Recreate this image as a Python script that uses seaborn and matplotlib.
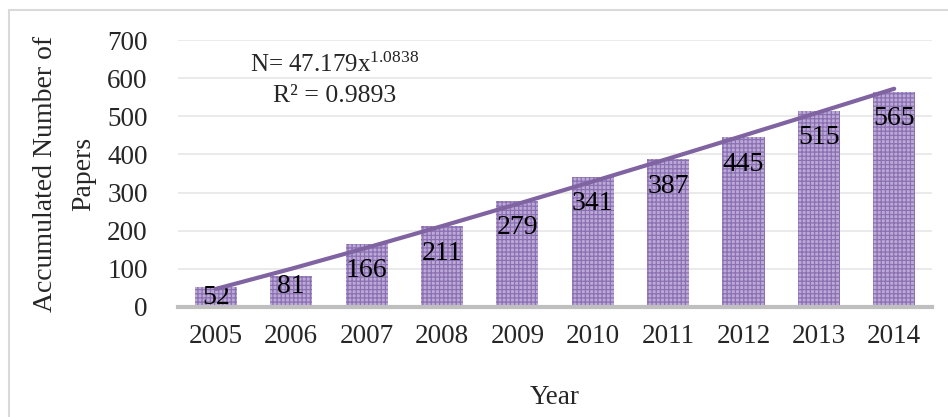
import numpy as np
import pandas as pd
import seaborn as sns
import matplotlib.pyplot as plt
from matplotlib.patches import Rectangle

# data
years = ['2005', '2006', '2007', '2008', '2009', '2010', '2011', '2012', '2013', '2014']
papers = [52, 81, 166, 211, 279, 341, 387, 445, 515, 565]
# power trend line shown on the chart: N = a * x^b
trend_a = 47.179
trend_b = 1.0838

df = pd.DataFrame({'Year': years, 'Papers': papers})

sns.set_style('white')
plt.rcParams['font.family'] = ['Liberation Serif', 'DejaVu Serif']
plt.rcParams['mathtext.fontset'] = 'custom'
plt.rcParams['mathtext.rm'] = 'Liberation Serif'
plt.rcParams['mathtext.it'] = 'Liberation Serif:italic'
plt.rcParams['hatch.linewidth'] = 0.9

fig = plt.figure(figsize=(9.48, 4.17), dpi=100)
ax = fig.add_axes([0.188, 0.264, 0.795, 0.640])

sns.barplot(data=df, x='Year', y='Papers', color='#bcaad6', width=0.56,
            saturation=1, ax=ax)
for p in ax.patches:
    p.set_hatch('++++')
    p.set_edgecolor('#8b70b3')
    p.set_linewidth(0)

# value labels inside the bar tops
for i, v in enumerate(papers):
    off = 71 if v >= 100 else 27
    ax.text(i, v - off, str(v), ha='center', va='center', fontsize=20, color='black')

# trend line
xs = np.arange(1, len(years) + 1)
ax.plot(xs - 1, trend_a * xs ** trend_b, color='#8064a2', lw=3, zorder=5)

ax.text(1.57, 636, r'N= 47.179x$^{\mathrm{1.0838}}$', ha='center', va='center', fontsize=18)
ax.text(1.57, 552, 'R² = 0.9893', ha='center', va='center', fontsize=18.5)

ax.set_ylim(0, 700)
ax.set_xlim(-0.5, len(years) - 0.5)
ax.set_yticks(range(0, 701, 100))
ax.yaxis.grid(True, color='#e6e6e6', lw=1.2)
ax.set_axisbelow(True)
for s in ['top', 'right', 'left']:
    ax.spines[s].set_visible(False)
ax.spines['bottom'].set_color('#bfbfbf')
ax.spines['bottom'].set_linewidth(3)
ax.tick_params(axis='both', length=0, labelsize=19.5, pad=12)
ax.tick_params(axis='y', pad=22)
ax.set_xlabel('Year', fontsize=19.5, labelpad=26)
ax.set_ylabel('Accumulated Number of\nPapers', fontsize=20, labelpad=8, linespacing=1.7)

# outer chart border
fig.patches.append(Rectangle((9 / 948, -0.1), 1.1, 1 - 10 / 417 + 0.1,
                             transform=fig.transFigure, fill=False,
                             edgecolor='#d9d9d9', lw=1.5))

fig.savefig('out.png', dpi=100)
